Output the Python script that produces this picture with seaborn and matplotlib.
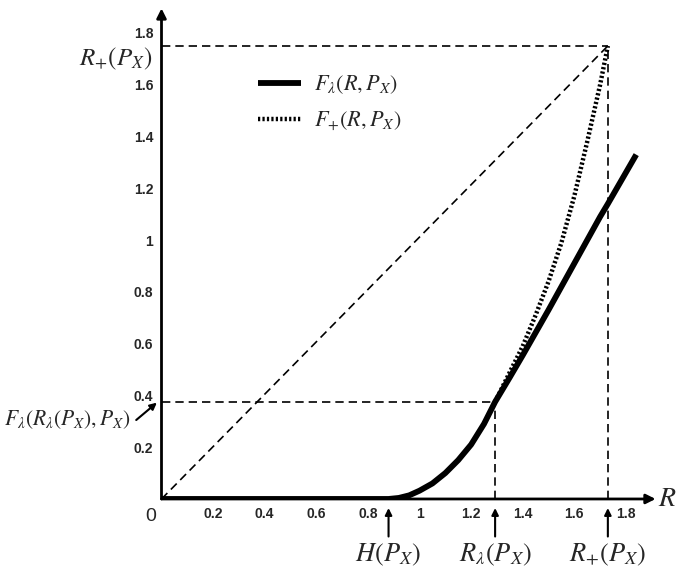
import numpy as np
import pandas as pd
import matplotlib.pyplot as plt
import seaborn as sns

# curve values
r_lambda_curve = [0.0, 0.2, 0.4, 0.6, 0.8, 0.88, 0.92, 0.96, 1.0, 1.05, 1.1, 1.15,
                  1.2, 1.25, 1.293, 1.35, 1.4, 1.5, 1.6, 1.7, 1.73, 1.84]
f_lambda_curve = [0.0, 0.0, 0.0, 0.0, 0.0, 0.0, 0.004, 0.014, 0.032, 0.06, 0.1, 0.15,
                  0.21, 0.29, 0.375, 0.47, 0.555, 0.73, 0.91, 1.09, 1.14, 1.33]

r_plus_curve = [1.293, 1.35, 1.4, 1.45, 1.5, 1.55, 1.6, 1.65, 1.7, 1.73]
f_plus_curve = [0.375, 0.49, 0.59, 0.71, 0.84, 0.99, 1.17, 1.38, 1.6, 1.75]

H_px = 0.88
R_lam = 1.293
F_at_R_lam = 0.375
R_plus = 1.73
R_plus_y = 1.75

yticks = [0.2, 0.4, 0.6, 0.8, 1.0, 1.2, 1.4, 1.6, 1.8]
ytick_labels = ["0.2", "0.4", "0.6", "0.8", "1", "1.2", "1.4", "1.6", "1.8"]
xticks = [0.2, 0.4, 0.6, 0.8, 1.0, 1.2, 1.4, 1.6, 1.8]
xtick_labels = ["0.2", "0.4", "0.6", "0.8", "1", "1.2", "1.4", "1.6", "1.8"]

sns.set_style("white")
plt.rcParams["font.family"] = ["Liberation Sans", "DejaVu Sans"]
plt.rcParams["mathtext.fontset"] = "stix"

df_lam = pd.DataFrame({"R": r_lambda_curve, "F": f_lambda_curve})
df_plus = pd.DataFrame({"R": r_plus_curve, "F": f_plus_curve})

fig = plt.figure(figsize=(6.8, 5.74), dpi=100)
ax = fig.add_axes([0.2375, 0.1307, 0.7285, 0.857])
ax.set_xlim(0, 1.92)
ax.set_ylim(0, 1.9)

dash_kw = dict(color="black", lw=1.2, ls=(0, (5, 3)))
# reference dashed lines
ax.plot([0, R_plus], [0, R_plus_y], **dash_kw)
ax.plot([0, R_plus], [R_plus_y, R_plus_y], **dash_kw)
ax.plot([R_plus, R_plus], [0, R_plus_y], **dash_kw)
ax.plot([0, R_lam], [F_at_R_lam, F_at_R_lam], **dash_kw)
ax.plot([R_lam, R_lam], [0, F_at_R_lam], **dash_kw)

sns.lineplot(data=df_plus, x="R", y="F", ax=ax, color="black", lw=3.2,
             linestyle=(0, (0.5, 0.5)), label=r"$F_{+}(R,P_X)$", sort=False)
sns.lineplot(data=df_lam, x="R", y="F", ax=ax, color="black", lw=4.2,
             label=r"$F_{\lambda}(R,P_X)$", sort=False, solid_capstyle="butt")

h, l = ax.get_legend_handles_labels()
ax.legend(h[::-1], l[::-1], loc="upper left", bbox_to_anchor=(0.155, 0.905),
          frameon=False, fontsize=16, handlelength=1.9, handletextpad=0.6,
          labelspacing=0.6)

for s in ax.spines.values():
    s.set_visible(False)
# axes with arrow heads
ax.annotate("", xy=(1.915, 0), xytext=(0, 0), annotation_clip=False,
            arrowprops=dict(arrowstyle="-|>", lw=2, color="black", shrinkA=0, shrinkB=0,
                            mutation_scale=14))
ax.annotate("", xy=(0, 1.895), xytext=(0, 0), annotation_clip=False,
            arrowprops=dict(arrowstyle="-|>", lw=2, color="black", shrinkA=0, shrinkB=0,
                            mutation_scale=14))

ax.set_xticks(xticks)
ax.set_xticklabels(xtick_labels)
ax.set_yticks(yticks)
ax.set_yticklabels(ytick_labels)
ax.tick_params(direction="in", length=5, width=1.5, labelsize=10, pad=6)
for t in ax.get_xticklabels() + ax.get_yticklabels():
    t.set_fontweight("bold")
ax.set_xlabel("")
ax.set_ylabel("")

ax.text(-0.02, -0.035, "0", fontsize=14, ha="right", va="top")
ax.text(1.925, 0.0, r"$R$", fontsize=20, ha="left", va="center", clip_on=False)

ax.text(-0.035, 1.70, r"$R_{+}(P_X)$", fontsize=18, ha="right", va="center")
ax.text(-0.118, 0.305, r"$F_{\lambda}(R_{\lambda}(P_X),P_X)$", fontsize=15.5,
        ha="right", va="center")
ax.annotate("", xy=(-0.018, 0.372), xytext=(-0.098, 0.305), annotation_clip=False,
            arrowprops=dict(arrowstyle="-|>", lw=1.5, color="black", mutation_scale=10,
                            shrinkA=0, shrinkB=0))

for xv, lab in [(H_px, r"$H(P_X)$"), (R_lam, r"$R_{\lambda}(P_X)$"), (R_plus, r"$R_{+}(P_X)$")]:
    ax.annotate("", xy=(xv, -0.035), xytext=(xv, -0.145), annotation_clip=False,
                arrowprops=dict(arrowstyle="-|>", lw=1.5, color="black", mutation_scale=10,
                                shrinkA=0, shrinkB=0))
    ax.text(xv, -0.165, lab, fontsize=19, ha="center", va="top")

fig.savefig("out.png", dpi=100)
